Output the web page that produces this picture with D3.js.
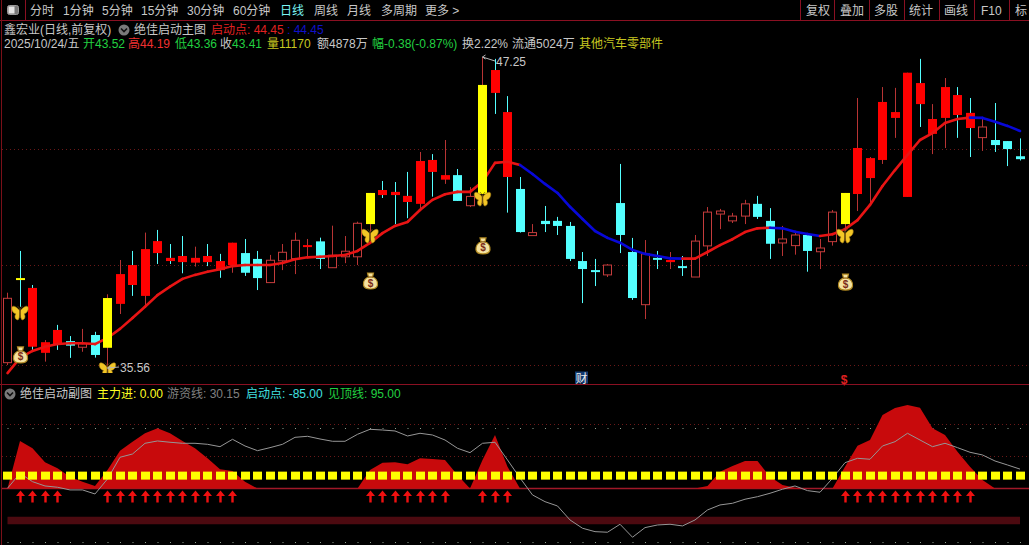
<!DOCTYPE html>
<html><head><meta charset="utf-8">
<script src="https://cdn.jsdelivr.net/npm/d3@7/dist/d3.min.js"></script>
<style>html,body{margin:0;padding:0;background:#000;overflow:hidden}svg{display:block}
text{font-family:"Liberation Sans","Noto Sans CJK SC",sans-serif;font-size:12px}</style>
</head><body><svg id="c" width="1029" height="545"></svg>
<script>
const candleStyle=["h","Y","R","r","R","c","h","c","y","r","R","r","R","R","R","r","R","R","r","c","c","h","h","h","r","c","h","h","h","y","R","R","R","r","R","r","c","h","y","R","R","c","h","c","c","c","c","c","h","c","c","h","c","r","c","h","h","h","h","h","c","c","h","h","c","h","h","y","r","r","r","r","r","R","r","r","R","R","h","c","c","c"];
const bodyHigh=[38.18,38.94,38.57,36.53,36.99,36.57,36.47,36.80,38.19,39.09,39.43,40.03,40.33,39.70,39.77,39.70,39.77,39.58,40.27,39.88,39.66,39.61,39.91,40.36,40.18,40.32,39.80,39.95,41.00,42.14,42.25,42.18,42.03,43.34,43.38,42.81,42.81,42.01,46.20,46.76,45.18,42.29,40.65,41.09,41.09,40.90,39.58,39.24,39.43,41.76,39.92,39.85,39.70,39.62,39.39,40.33,41.42,41.46,41.27,41.73,41.73,41.09,40.41,40.56,40.56,40.07,41.42,42.14,43.83,43.45,45.56,45.18,46.66,46.27,44.92,46.12,45.82,45.15,44.62,44.13,44.09,43.52];
const bodyLow=[35.76,38.87,36.36,36.13,36.46,36.40,36.34,36.05,36.32,37.97,38.68,38.27,39.88,39.58,39.54,39.52,39.54,39.24,39.43,39.14,38.94,38.77,39.59,39.67,40.11,39.66,39.33,39.74,39.74,40.97,42.06,42.06,41.80,41.73,42.93,42.64,41.84,41.66,42.10,45.90,42.74,40.67,40.60,40.97,40.90,39.66,39.28,39.17,39.06,40.56,38.19,37.94,39.66,39.54,39.32,38.98,40.15,41.39,41.09,41.27,41.24,40.23,40.26,40.16,39.96,39.93,40.31,40.97,42.10,42.70,43.38,44.96,41.99,45.48,44.36,44.96,45.07,44.58,44.22,43.94,43.79,43.41];
const wickHigh=[38.39,39.96,38.68,36.61,37.18,36.76,37.03,36.92,38.33,39.62,39.96,40.65,40.75,40.22,40.52,40.12,40.22,39.85,40.27,40.41,39.96,39.81,40.22,40.65,40.41,40.46,40.91,40.52,41.06,42.14,42.59,42.55,42.93,43.68,43.60,44.13,43.04,42.36,47.25,47.18,45.78,42.74,40.97,41.65,41.24,41.05,39.92,39.66,39.47,43.23,40.45,40.37,39.96,39.92,39.77,40.56,41.61,41.54,41.39,41.88,42.03,41.57,40.90,40.65,40.56,40.41,41.50,42.14,45.71,43.49,46.12,46.09,46.66,47.18,45.48,46.46,46.12,45.71,44.92,45.52,44.09,44.19];
const wickLow=[35.67,37.86,36.24,35.80,36.24,35.94,36.17,35.95,35.56,37.59,38.27,37.84,39.47,39.47,39.12,39.37,39.39,38.95,39.14,39.02,38.49,38.77,39.24,39.09,39.74,39.28,39.33,39.50,39.43,40.68,41.95,40.97,41.19,41.54,42.00,42.48,41.84,41.61,42.10,45.11,41.40,40.65,40.56,40.67,40.56,39.58,38.00,38.64,38.98,39.88,38.12,37.40,39.28,39.28,39.02,38.98,39.77,40.78,41.01,40.97,41.16,39.66,39.77,39.82,39.18,39.28,40.16,40.71,41.46,41.69,43.23,44.21,41.99,44.62,43.60,43.83,44.21,43.49,43.72,43.68,43.15,43.36];
const startLine=[35.37,35.94,36.20,36.36,36.46,36.49,36.49,36.46,36.69,37.03,37.44,37.86,38.30,38.62,38.91,39.06,39.18,39.27,39.39,39.43,39.43,39.43,39.51,39.65,39.72,39.74,39.77,39.81,39.96,40.26,40.63,40.90,41.05,41.50,41.88,42.09,42.18,42.18,42.56,43.27,43.31,43.19,42.85,42.48,42.14,41.62,41.16,40.71,40.45,40.27,40.00,39.85,39.77,39.68,39.67,39.67,39.92,40.18,40.40,40.67,40.81,40.83,40.81,40.68,40.60,40.52,40.59,40.78,41.12,41.69,42.40,43.00,43.57,44.13,44.39,44.77,44.92,44.97,44.96,44.82,44.66,44.47];
const fallingSpans=[[41,54],[61,65],[77,81]];
const mainGrid=[43.79,39.43,35.66];
const bagIndex=[1,29,38,67], bagPrice=[36.05,38.83,40.15,38.79];
const flyIndex=[1,8,29,38,67], flyPrice=[37.63,35.50,40.52,41.91,40.52];
const mainForce=[0,74,62.6,40.8,31.5,18.4,10.6,3.9,28.8,58.9,72.9,86,93.8,86,74,62.6,47,29.9,27.3,10.6,0,0,0,0,0,0,0,0,0,28.8,40.2,40.8,37.7,47,46,44.4,21,0,44.4,83.3,34,0,0,0,0,0,0,0,0,0,0,0,0,0,0,0,3.9,26.2,35,42.8,42.8,18.4,5.5,1.2,0,0,0,34,66.7,75.5,114.5,125.4,130,125.9,93.8,83.3,57.3,34,13.2,0,0,0];
const hotMoney=[0.3,23.7,10.6,3.9,1.9,-2.3,-2.3,-8.6,14.8,48.6,53.7,70.4,74,72,70.4,70.4,68.8,65.1,76.6,66.2,58.9,63.6,68.8,79.7,81.3,77.1,73.5,73.5,84.4,92.2,91.1,89.6,81.8,86,83.3,75.5,62.6,55.8,70.4,72,44.4,16.4,-10.1,-20.6,-27.3,-49.1,-62,-67.3,-68.2,-55.8,-76,-61,-56.9,-55.8,-58.4,-49.1,-33.5,-25.7,-23.1,-16.8,-12.8,-7.5,-1.2,3.9,-3.4,-5.9,15.9,40.2,47,45.5,66.2,72.9,86,75.5,65.1,70.4,63.6,56.4,52.2,42.8,36.6,30.15];
const arrowIndex=[1,2,3,4,8,9,10,11,12,13,14,15,16,17,18,29,30,31,32,33,34,35,38,39,40,67,68,69,70,71,72,73,74,75,76,77];
const dashLevel=20, bandLevel=-50, topLine=95, bottomLine=-85, subGrid=[100,50];
const toolbarLeft=["分时","1分钟","5分钟","15分钟","30分钟","60分钟","日线","周线","月线","多周期","更多 >"];
const toolbarRight=["复权","叠加","多股","统计","画线","F10","标"];

const X_LEFT=[30,63,102,141,187,233,280,314,347,381,425];
const X_RIGHT=[806,840,874,909,944,981,1015];
const SEP=[800.5,834.5,869.5,904.5,939.5,974.5,1009.5];
const C={red:"#ff0000",hollow:"#c43c3c",cyan:"#54ffff",yellow:"#ffff00",wick:"#b83434",line:"#e81414",blue:"#0808d8",border:"#8a1022",text:"#c8c8c8",green:"#22d040"};

const svg=d3.select("#c");
svg.append("rect").attr("width",1029).attr("height",545).attr("fill","#000");
const idx=d3.range(candleStyle.length);
const x=d3.scalePoint().domain(idx).range([7.5,1020]);
const y=d3.scaleLinear().domain([35.56,47.25]).range([368,57]);
const ys=d3.scaleLinear().domain([-85,95]).range([543,427.5]);
const defs=svg.append("defs");
defs.append("clipPath").attr("id","mainClip").append("rect").attr("x",0).attr("y",21).attr("width",1029).attr("height",352);

// frame
const hline=(yy,c,w,x0=0,x1=1029,dash)=>svg.append("line").attr("x1",x0).attr("x2",x1).attr("y1",yy).attr("y2",yy).attr("stroke",c).attr("stroke-width",w).attr("stroke-dasharray",dash||null);
const vline=(xx,y0,y1,c)=>svg.append("line").attr("x1",xx).attr("x2",xx).attr("y1",y0).attr("y2",y1).attr("stroke",c).attr("stroke-width",1);
hline(20.5,C.border,1);hline(384.5,C.border,1);
vline(1.5,0,545,"#7a1018");vline(25.5,0,20,C.border);
SEP.forEach(s=>vline(s,0,20,C.border));
mainGrid.forEach(g=>hline(Math.round(y(g))+.5,"#6a1818",1,2,1029,"1 3"));
subGrid.forEach(g=>hline(Math.round(ys(g))+.5,"#6a1818",1,2,1029,"1 3"));

// toolbar
const tb=svg.append("g");
tb.selectAll("text.l").data(toolbarLeft).join("text").attr("class","l").attr("x",(d,i)=>X_LEFT[i]).attr("y",14.5)
  .attr("fill",(d,i)=>d==="日线"?"#7af5f5":C.text).text(d=>d);
tb.selectAll("text.r").data(toolbarRight).join("text").attr("class","r").attr("x",(d,i)=>X_RIGHT[i]).attr("y",14.5)
  .attr("fill",C.text).text(d=>d);
tb.append("rect").attr("x",7.5).attr("y",5.5).attr("width",11).attr("height",9).attr("rx",2).attr("fill","#777").attr("stroke","#999");
tb.append("rect").attr("x",8.5).attr("y",6.5).attr("width",6).attr("height",7).attr("fill","#e4e4e4");

// header text
function row(px,py,segs){const t=svg.append("text").attr("x",px).attr("y",py);segs.forEach(s=>t.append("tspan").attr("fill",s[1]).text(s[0]));return t;}
function chevron(cx,cy){svg.append("circle").attr("cx",cx).attr("cy",cy).attr("r",5.5).attr("fill","#7a7a7a");
 svg.append("path").attr("d",`M${cx-3},${cy-1.5}L${cx},${cy+1.5}L${cx+3},${cy-1.5}`).attr("fill","none").attr("stroke","#111").attr("stroke-width",1.6);}
row(4,34,[["鑫宏业(日线,前复权)",C.text]]);chevron(124,30);
row(134,34,[["绝佳启动主图",C.text]]);
row(211,34,[["启动点: 44.45","#e02020"]]);
row(287,34,[[": 44.45","#1010c8"]]);
row(4,48,[["2025/10/24/五",C.text]]);
row(83,48,[["开43.52",C.green]]);
row(128,48,[["高44.19","#f03030"]]);
row(175,48,[["低43.36",C.green]]);
row(220,48,[["收",C.text],["43.41",C.green]]);
row(267,48,[["量11170","#c8c820"]]);
row(317,48,[["额4878万",C.text]]);
row(372,48,[["幅-0.38(-0.87%)",C.green]]);
row(462,48,[["换2.22%",C.text]]);
row(512,48,[["流通5024万",C.text]]);
row(579,48,[["其他汽车零部件","#c8c820"]]);
chevron(10,394);
row(20,398,[["绝佳启动副图",C.text]]);
row(97,398,[["主力进: 0.00","#ffff20"]]);
row(167,398,[["游资线: 30.15","#808080"]]);
row(246,398,[["启动点: -85.00","#40e0e0"]]);
row(328,398,[["见顶线: 95.00",C.green]]);

// candles
const bw=9;
const left=i=>Math.round(x(i)-bw/2);
const isHollow=s=>s==="h", bodyColor=s=>({h:C.hollow,r:C.red,R:C.red,c:C.cyan,y:C.yellow,Y:C.yellow})[s];
const wickColor=s=>({h:C.wick,r:C.wick,R:C.cyan,c:C.cyan,y:C.wick,Y:C.cyan})[s];
function drawCandles(g,list){
 const cg=g.selectAll("g").data(list).join("g");
 cg.append("line").attr("x1",i=>left(i)+bw/2).attr("x2",i=>left(i)+bw/2)
   .attr("y1",i=>y(wickHigh[i])).attr("y2",i=>y(wickLow[i])).attr("stroke",i=>wickColor(candleStyle[i])).attr("stroke-width",1);
 cg.append("rect").attr("x",i=>left(i)+(isHollow(candleStyle[i])?.5:0)).attr("width",i=>isHollow(candleStyle[i])?bw-1:bw)
   .attr("y",i=>y(bodyHigh[i])).attr("height",i=>Math.max(isHollow(candleStyle[i])?3:2,y(bodyLow[i])-y(bodyHigh[i])))
   .attr("fill",i=>isHollow(candleStyle[i])?"#000":bodyColor(candleStyle[i]))
   .attr("stroke",i=>isHollow(candleStyle[i])?C.hollow:"none").attr("stroke-width",1);
}
drawCandles(svg.append("g"),idx.filter(i=>candleStyle[i]!=="y"));
// start line
const lineGen=d3.line().x(i=>x(i)).y(i=>y(startLine[i]));
const isFalling=i=>fallingSpans.some(s=>i>=s[0]&&i<s[1]);
const lg=svg.append("g").attr("fill","none").attr("stroke-width",2.6).attr("stroke-linejoin","round").attr("stroke-linecap","round");
idx.slice(0,-1).forEach(i=>lg.append("path").attr("d",lineGen([i,i+1])).attr("stroke",isFalling(i)?C.blue:C.line));
drawCandles(svg.append("g"),idx.filter(i=>candleStyle[i]==="y"));

// markers
const ms=svg.append("g").attr("clip-path","url(#mainClip)");
flyIndex.forEach((f,k)=>{const g=ms.append("g").attr("transform",`translate(${x(f)},${y(flyPrice[k])})`);
 g.append("path").attr("fill","#f2c626").attr("stroke","#9a7410").attr("stroke-width",.6)
  .attr("d","M0,-2C-3,-6 -7,-8 -8,-6C-9,-3 -7,0 -4,1C-6,3 -5,7 -2,7C-1,6 0,3 0,-2ZM0,-2C3,-6 7,-8 8,-6C9,-3 7,0 4,1C6,3 5,7 2,7C1,6 0,3 0,-2Z");
 g.append("path").attr("d","M0,-4V5").attr("stroke","#6a4a10").attr("stroke-width",1.4);
 g.append("path").attr("d","M0,-4L-2.5,-7M0,-4L2.5,-7").attr("stroke","#6a4a10").attr("stroke-width",.7);
});
bagIndex.forEach((f,k)=>{const g=ms.append("g").attr("transform",`translate(${x(f)+.5},${y(bagPrice[k])})`);
 g.append("path").attr("fill","#f4e2a0").attr("stroke","#b08820").attr("stroke-width",1.2)
  .attr("d","M-3,-8L3,-8L2,-4C5,-3 7.5,0 7,4C6.5,7.5 3,8 0,8C-3,8 -6.5,7.5 -7,4C-7.5,0 -5,-3 -2,-4Z");
 g.append("path").attr("d","M-2.5,-4H2.5").attr("stroke","#8a5a10").attr("stroke-width",1.2);
 g.append("text").attr("x",0).attr("y",5.5).attr("text-anchor","middle").attr("fill","#7a2c18").attr("font-weight","bold").style("font-size","10px").text("$");
});

// high / low notes
const notes=[{i:38,p:47.25,label:"47.25",tx:496,dy:9,dx0:0},{i:8,p:35.56,label:"35.56",tx:120,dy:4,dx0:0}];
notes.forEach(n=>{const x0=x(n.i)+n.dx0,y0=y(n.p);
 svg.append("path").attr("d",`M${n.tx-1},${y0+n.dy-5}L${x0},${y0}M${x0},${y0}l3,-2M${x0},${y0}l3,2`).attr("stroke","#b8b8b8").attr("fill","none");
 svg.append("text").attr("x",n.tx).attr("y",y0+n.dy).attr("fill",C.text).text(n.label);
});
// event tags
svg.append("rect").attr("x",x(46)-7.5).attr("y",371.5).attr("width",13).attr("height",12).attr("fill","#123a70");
svg.append("text").attr("x",x(46)-1).attr("y",382.5).attr("text-anchor","middle").attr("fill","#e8e8e8").text("财");
svg.append("text").attr("x",x(67)-1).attr("y",384).attr("text-anchor","middle").attr("fill","#e02020").attr("font-weight","bold").text("$");

// sub panel
hline(ys(0),"#a01828",1.5,2,1029);
hline(Math.round(ys(topLine))+.5,"#8fa090",1,x(0),1029,"1 11.5");
hline(Math.round(ys(bottomLine))-.5,"#8fa090",1,x(0),1029,"1 11.5");
svg.append("path").datum(idx).attr("fill","#c80a0c")
  .attr("d",d3.area().x(i=>x(i)).y0(ys(0)).y1(i=>ys(mainForce[i])));
svg.append("line").attr("x1",x(0)).attr("x2",x(81)).attr("y1",ys(bandLevel)).attr("y2",ys(bandLevel)).attr("stroke","#4c0a10").attr("stroke-width",7.5);
svg.append("path").datum(idx).attr("fill","none").attr("stroke","#969696").attr("stroke-width",1)
  .attr("d",d3.line().x(i=>x(i)).y(i=>ys(hotMoney[i])));
svg.append("g").selectAll("rect").data(idx).join("rect")
  .attr("x",i=>left(i)).attr("y",ys(dashLevel)-4).attr("width",bw).attr("height",8).attr("fill",C.yellow);
svg.append("g").selectAll("path").data(arrowIndex).join("path").attr("fill","#f01010")
  .attr("transform",i=>`translate(${left(i)+bw/2},${ys(0)+2})`)
  .attr("d","M0,0L4.5,5.5H1.2V12H-1.2V5.5H-4.5Z");
</script></body></html>
